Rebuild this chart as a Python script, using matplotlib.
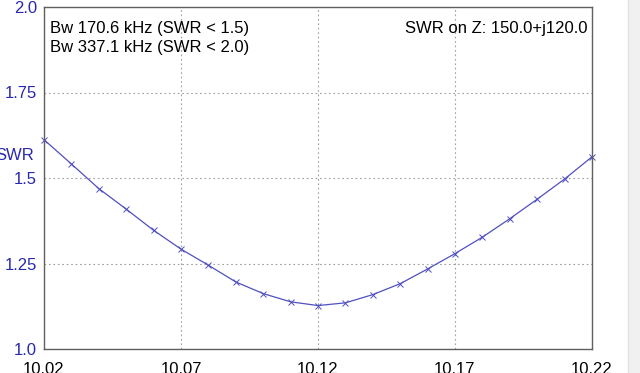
import matplotlib
matplotlib.use("Agg")
import matplotlib.pyplot as plt
from matplotlib.patches import Rectangle

# SWR sweep, frequency in MHz
freq = [10.02, 10.03, 10.04, 10.05, 10.06, 10.07, 10.08, 10.09, 10.10, 10.11, 10.12,
        10.13, 10.14, 10.15, 10.16, 10.17, 10.18, 10.19, 10.20, 10.21, 10.22]
swr = [1.612, 1.541, 1.469, 1.409, 1.347, 1.292, 1.245, 1.196, 1.162, 1.138, 1.127,
       1.135, 1.159, 1.191, 1.234, 1.279, 1.327, 1.381, 1.438, 1.497, 1.562]

x_ticks = [10.02, 10.07, 10.12, 10.17, 10.22]
x_labels = ['10.02', '10.07', '10.12', '10.17', '10.22']
y_ticks = [1.0, 1.25, 1.5, 1.75, 2.0]
y_labels = ['1.0', '1.25', '1.5', '1.75', '2.0']

info_lines = ['Bw 170.6 kHz (SWR < 1.5)', 'Bw 337.1 kHz (SWR < 2.0)']
info_right = 'SWR on Z: 150.0+j120.0'

plt.rcParams['font.family'] = ['Liberation Sans', 'DejaVu Sans']

fig = plt.figure(figsize=(6.4, 3.73), dpi=100)
ax = fig.add_axes([44 / 640, 1 - 349 / 373, 548 / 640, 342 / 373])

line_col = '#5050c0'
ax.plot(freq, swr, color=line_col, linewidth=0.9, marker='x', markersize=4,
        markeredgewidth=0.7, clip_on=False)

ax.set_xlim(10.02, 10.22)
ax.set_ylim(1.0, 2.0)
ax.set_xticks(x_ticks)
ax.set_xticklabels(x_labels)
ax.set_yticks(y_ticks)
ax.set_yticklabels(y_labels)
ax.tick_params(axis='both', length=0, labelsize=12)
ax.tick_params(axis='x', pad=9, labelcolor='black')
ax.tick_params(axis='y', pad=5, labelcolor='#2828b0')
ax.grid(True, color='#a0a0a0', linestyle=(0, (1.5, 2.5)), linewidth=0.8)

for s in ax.spines.values():
    s.set_color('#606060')
    s.set_linewidth(1.0)

# info text, baselines at 33 px and 52 px from the top
ax.text(0.011, (349 - 33) / 342, info_lines[0], transform=ax.transAxes, fontsize=12,
        ha='left', va='baseline')
ax.text(0.011, (349 - 52) / 342, info_lines[1], transform=ax.transAxes, fontsize=12,
        ha='left', va='baseline')
ax.text(0.991, (349 - 33) / 342, info_right, transform=ax.transAxes, fontsize=12,
        ha='right', va='baseline')

fig.text(34 / 640, 1 - 155.5 / 373, 'SWR', color='#2828b0', fontsize=12,
         ha='right', va='center')

# light gray strip on the right edge
fig.patches.append(Rectangle((628 / 640, 0), 12 / 640, 1, transform=fig.transFigure,
                             facecolor='#f0f0f0', edgecolor='none'))
fig.add_artist(plt.Line2D([628 / 640, 628 / 640], [0, 1], transform=fig.transFigure,
                          color='#e2e2e2', linewidth=1))

fig.savefig('out.png', dpi=100)
